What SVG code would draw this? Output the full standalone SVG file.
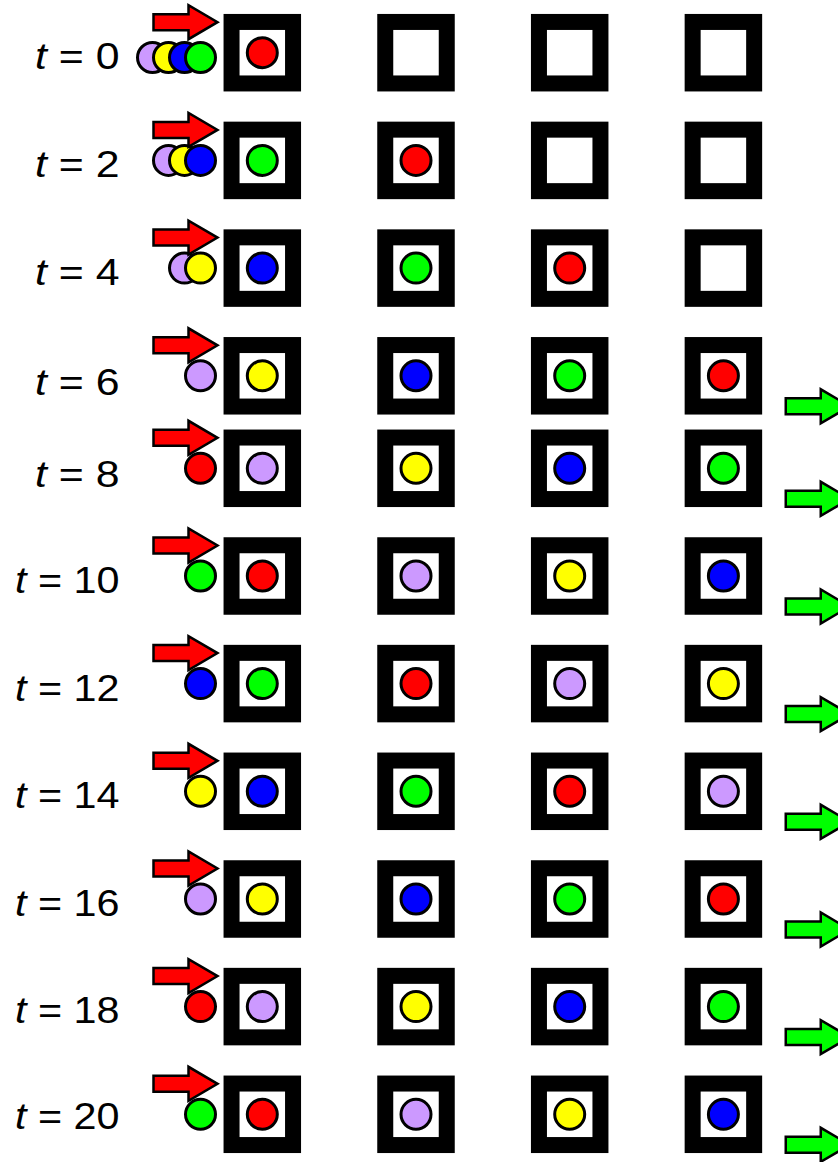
<svg xmlns="http://www.w3.org/2000/svg" xmlns:xlink="http://www.w3.org/1999/xlink" width="838" height="1162" viewBox="0 0 838 1162">
<style>
.lbl{font-family:"Liberation Sans",Arial,sans-serif;font-size:36px;fill:#000}
.it{font-style:italic}
.box{fill:#fff;stroke:#000;stroke-width:16}
.c{stroke:#000;stroke-width:3}
.red{fill:#ff0000}.grn{fill:#00ff00}.blu{fill:#0000ff}.yel{fill:#ffff00}.lav{fill:#cc99ff}
.arr{stroke:#000;stroke-width:2.5;stroke-linejoin:miter}
.ra{fill:#ff0000}.ga{fill:#00ff00}
</style>
<defs>
<rect id="box" class="box" x="-30.75" y="-30.75" width="61.5" height="61.5"/>
<path id="arrow" d="M-64,-8 H-29 V-17 L0,0 L-29,17 V8 H-64 Z"/>
</defs>
<rect width="838" height="1162" fill="#fff"/>

<g id="row-t0">
<text class="lbl" x="35" y="69" textLength="84.5" lengthAdjust="spacingAndGlyphs"><tspan class="it">t</tspan> = 0</text>
<g id="queue-t0"><circle class="c lav" cx="152.5" cy="57.5" r="15"/><circle class="c yel" cx="168.5" cy="57.5" r="15"/><circle class="c blu" cx="184.5" cy="57.5" r="15"/><circle class="c grn" cx="200.5" cy="57.5" r="15"/></g>
<g id="box-t0-1"><use href="#box" x="262.3" y="52.7"/><circle class="c red" cx="262.3" cy="52.7" r="15"/></g>
<g id="box-t0-2"><use href="#box" x="416" y="52.7"/></g>
<g id="box-t0-3"><use href="#box" x="569.7" y="52.7"/></g>
<g id="box-t0-4"><use href="#box" x="723.4" y="52.7"/></g>
</g>

<g id="row-t2">
<text class="lbl" x="35" y="177" textLength="84.5" lengthAdjust="spacingAndGlyphs"><tspan class="it">t</tspan> = 2</text>
<g id="queue-t2"><circle class="c lav" cx="168.5" cy="160.4" r="15"/><circle class="c yel" cx="184.5" cy="160.4" r="15"/><circle class="c blu" cx="200.5" cy="160.4" r="15"/></g>
<g id="box-t2-1"><use href="#box" x="262.3" y="160.4"/><circle class="c grn" cx="262.3" cy="160.4" r="15"/></g>
<g id="box-t2-2"><use href="#box" x="416" y="160.4"/><circle class="c red" cx="416" cy="160.4" r="15"/></g>
<g id="box-t2-3"><use href="#box" x="569.7" y="160.4"/></g>
<g id="box-t2-4"><use href="#box" x="723.4" y="160.4"/></g>
</g>

<g id="row-t4">
<text class="lbl" x="35" y="285" textLength="84.5" lengthAdjust="spacingAndGlyphs"><tspan class="it">t</tspan> = 4</text>
<g id="queue-t4"><circle class="c lav" cx="184.5" cy="268.1" r="15"/><circle class="c yel" cx="200.5" cy="268.1" r="15"/></g>
<g id="box-t4-1"><use href="#box" x="262.3" y="268.1"/><circle class="c blu" cx="262.3" cy="268.1" r="15"/></g>
<g id="box-t4-2"><use href="#box" x="416" y="268.1"/><circle class="c grn" cx="416" cy="268.1" r="15"/></g>
<g id="box-t4-3"><use href="#box" x="569.7" y="268.1"/><circle class="c red" cx="569.7" cy="268.1" r="15"/></g>
<g id="box-t4-4"><use href="#box" x="723.4" y="268.1"/></g>
</g>

<g id="row-t6">
<text class="lbl" x="35" y="394.5" textLength="84.5" lengthAdjust="spacingAndGlyphs"><tspan class="it">t</tspan> = 6</text>
<g id="queue-t6"><circle class="c lav" cx="200.5" cy="375.8" r="15"/></g>
<g id="box-t6-1"><use href="#box" x="262.3" y="375.8"/><circle class="c yel" cx="262.3" cy="375.8" r="15"/></g>
<g id="box-t6-2"><use href="#box" x="416" y="375.8"/><circle class="c blu" cx="416" cy="375.8" r="15"/></g>
<g id="box-t6-3"><use href="#box" x="569.7" y="375.8"/><circle class="c grn" cx="569.7" cy="375.8" r="15"/></g>
<g id="box-t6-4"><use href="#box" x="723.4" y="375.8"/><circle class="c red" cx="723.4" cy="375.8" r="15"/></g>
</g>

<g id="row-t8">
<text class="lbl" x="35" y="486.5" textLength="84.5" lengthAdjust="spacingAndGlyphs"><tspan class="it">t</tspan> = 8</text>
<g id="queue-t8"><circle class="c red" cx="200.5" cy="468.3" r="15"/></g>
<g id="box-t8-1"><use href="#box" x="262.3" y="468.3"/><circle class="c lav" cx="262.3" cy="468.3" r="15"/></g>
<g id="box-t8-2"><use href="#box" x="416" y="468.3"/><circle class="c yel" cx="416" cy="468.3" r="15"/></g>
<g id="box-t8-3"><use href="#box" x="569.7" y="468.3"/><circle class="c blu" cx="569.7" cy="468.3" r="15"/></g>
<g id="box-t8-4"><use href="#box" x="723.4" y="468.3"/><circle class="c grn" cx="723.4" cy="468.3" r="15"/></g>
</g>

<g id="row-t10">
<text class="lbl" x="15" y="593" textLength="104.5" lengthAdjust="spacingAndGlyphs"><tspan class="it">t</tspan> = 10</text>
<g id="queue-t10"><circle class="c grn" cx="200.5" cy="576" r="15"/></g>
<g id="box-t10-1"><use href="#box" x="262.3" y="576"/><circle class="c red" cx="262.3" cy="576" r="15"/></g>
<g id="box-t10-2"><use href="#box" x="416" y="576"/><circle class="c lav" cx="416" cy="576" r="15"/></g>
<g id="box-t10-3"><use href="#box" x="569.7" y="576"/><circle class="c yel" cx="569.7" cy="576" r="15"/></g>
<g id="box-t10-4"><use href="#box" x="723.4" y="576"/><circle class="c blu" cx="723.4" cy="576" r="15"/></g>
</g>

<g id="row-t12">
<text class="lbl" x="15" y="700.5" textLength="104.5" lengthAdjust="spacingAndGlyphs"><tspan class="it">t</tspan> = 12</text>
<g id="queue-t12"><circle class="c blu" cx="200.5" cy="683.6" r="15"/></g>
<g id="box-t12-1"><use href="#box" x="262.3" y="683.6"/><circle class="c grn" cx="262.3" cy="683.6" r="15"/></g>
<g id="box-t12-2"><use href="#box" x="416" y="683.6"/><circle class="c red" cx="416" cy="683.6" r="15"/></g>
<g id="box-t12-3"><use href="#box" x="569.7" y="683.6"/><circle class="c lav" cx="569.7" cy="683.6" r="15"/></g>
<g id="box-t12-4"><use href="#box" x="723.4" y="683.6"/><circle class="c yel" cx="723.4" cy="683.6" r="15"/></g>
</g>

<g id="row-t14">
<text class="lbl" x="15" y="808" textLength="104.5" lengthAdjust="spacingAndGlyphs"><tspan class="it">t</tspan> = 14</text>
<g id="queue-t14"><circle class="c yel" cx="200.5" cy="791.3" r="15"/></g>
<g id="box-t14-1"><use href="#box" x="262.3" y="791.3"/><circle class="c blu" cx="262.3" cy="791.3" r="15"/></g>
<g id="box-t14-2"><use href="#box" x="416" y="791.3"/><circle class="c grn" cx="416" cy="791.3" r="15"/></g>
<g id="box-t14-3"><use href="#box" x="569.7" y="791.3"/><circle class="c red" cx="569.7" cy="791.3" r="15"/></g>
<g id="box-t14-4"><use href="#box" x="723.4" y="791.3"/><circle class="c lav" cx="723.4" cy="791.3" r="15"/></g>
</g>

<g id="row-t16">
<text class="lbl" x="15" y="915.5" textLength="104.5" lengthAdjust="spacingAndGlyphs"><tspan class="it">t</tspan> = 16</text>
<g id="queue-t16"><circle class="c lav" cx="200.5" cy="899" r="15"/></g>
<g id="box-t16-1"><use href="#box" x="262.3" y="899"/><circle class="c yel" cx="262.3" cy="899" r="15"/></g>
<g id="box-t16-2"><use href="#box" x="416" y="899"/><circle class="c blu" cx="416" cy="899" r="15"/></g>
<g id="box-t16-3"><use href="#box" x="569.7" y="899"/><circle class="c grn" cx="569.7" cy="899" r="15"/></g>
<g id="box-t16-4"><use href="#box" x="723.4" y="899"/><circle class="c red" cx="723.4" cy="899" r="15"/></g>
</g>

<g id="row-t18">
<text class="lbl" x="15" y="1022.5" textLength="104.5" lengthAdjust="spacingAndGlyphs"><tspan class="it">t</tspan> = 18</text>
<g id="queue-t18"><circle class="c red" cx="200.5" cy="1006.6" r="15"/></g>
<g id="box-t18-1"><use href="#box" x="262.3" y="1006.6"/><circle class="c lav" cx="262.3" cy="1006.6" r="15"/></g>
<g id="box-t18-2"><use href="#box" x="416" y="1006.6"/><circle class="c yel" cx="416" cy="1006.6" r="15"/></g>
<g id="box-t18-3"><use href="#box" x="569.7" y="1006.6"/><circle class="c blu" cx="569.7" cy="1006.6" r="15"/></g>
<g id="box-t18-4"><use href="#box" x="723.4" y="1006.6"/><circle class="c grn" cx="723.4" cy="1006.6" r="15"/></g>
</g>

<g id="row-t20">
<text class="lbl" x="15" y="1129" textLength="104.5" lengthAdjust="spacingAndGlyphs"><tspan class="it">t</tspan> = 20</text>
<g id="queue-t20"><circle class="c grn" cx="200.5" cy="1114.3" r="15"/></g>
<g id="box-t20-1"><use href="#box" x="262.3" y="1114.3"/><circle class="c red" cx="262.3" cy="1114.3" r="15"/></g>
<g id="box-t20-2"><use href="#box" x="416" y="1114.3"/><circle class="c lav" cx="416" cy="1114.3" r="15"/></g>
<g id="box-t20-3"><use href="#box" x="569.7" y="1114.3"/><circle class="c yel" cx="569.7" cy="1114.3" r="15"/></g>
<g id="box-t20-4"><use href="#box" x="723.4" y="1114.3"/><circle class="c blu" cx="723.4" cy="1114.3" r="15"/></g>
</g>

<g id="connectors">
<g id="in-arrows" class="arr ra">
<use href="#arrow" x="217.5" y="22.2"/>
<use href="#arrow" x="217.5" y="129.9"/>
<use href="#arrow" x="217.5" y="237.6"/>
<use href="#arrow" x="217.5" y="345.3"/>
<use href="#arrow" x="217.5" y="437.8"/>
<use href="#arrow" x="217.5" y="545.5"/>
<use href="#arrow" x="217.5" y="653.1"/>
<use href="#arrow" x="217.5" y="760.8"/>
<use href="#arrow" x="217.5" y="868.5"/>
<use href="#arrow" x="217.5" y="976.1"/>
<use href="#arrow" x="217.5" y="1083.8"/>
</g>
<g id="out-arrows" class="arr ga">
<use href="#arrow" x="849.75" y="406.3"/>
<use href="#arrow" x="849.75" y="498.8"/>
<use href="#arrow" x="849.75" y="606.5"/>
<use href="#arrow" x="849.75" y="714.1"/>
<use href="#arrow" x="849.75" y="821.8"/>
<use href="#arrow" x="849.75" y="929.5"/>
<use href="#arrow" x="849.75" y="1037.1"/>
<use href="#arrow" x="849.75" y="1144.8"/>
</g>
</g>
</svg>
